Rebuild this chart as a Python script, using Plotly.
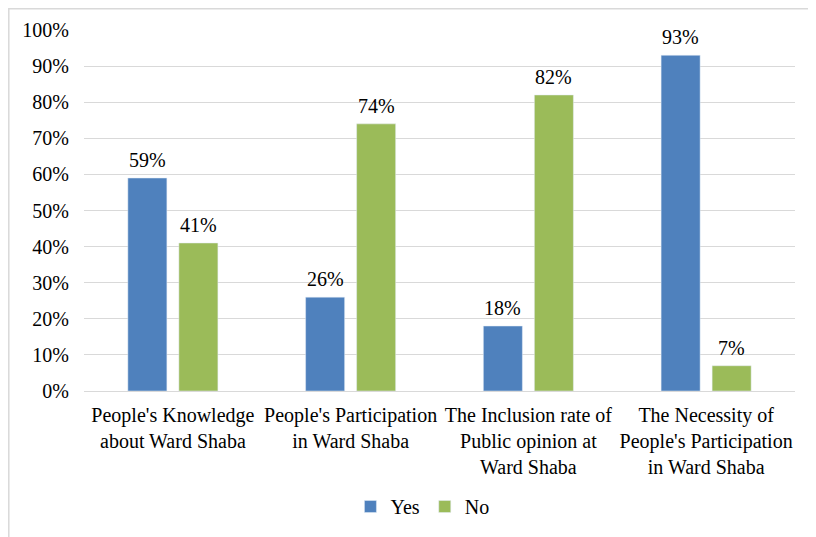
import plotly.graph_objects as go

categories = [
    "People's Knowledge<br>about Ward Shaba",
    "People's Participation<br>in Ward Shaba",
    "The Inclusion rate of<br>Public opinion at<br>Ward Shaba",
    "The Necessity of<br>People's Participation<br>in Ward Shaba",
]
yes_values = [59, 26, 18, 93]
no_values = [41, 74, 82, 7]
tick_vals = [0, 10, 20, 30, 40, 50, 60, 70, 80, 90, 100]
tick_text = [f"{v}%" for v in tick_vals]

FONT = "Liberation Serif"
SIZE = 20
BLUE, GREEN = "#4F81BD", "#9BBB59"

fig = go.Figure()
fig.add_trace(go.Bar(name="Yes", x=categories, y=yes_values, marker_color=BLUE))
fig.add_trace(go.Bar(name="No", x=categories, y=no_values, marker_color=GREEN))

# value labels above bars
for vals, dx in ((yes_values, -25.5), (no_values, 25.5)):
    for c, v in zip(categories, vals):
        fig.add_annotation(x=c, y=v, text=f"{v}%", showarrow=False, xref="x", yref="y",
                           xanchor="center", yanchor="bottom", xshift=dx, yshift=5,
                           font=dict(size=SIZE, family=FONT, color="#000000"))

W, H = 808, 529
L, R, T, B = 76, 21, 22, 146
PW, PH = W - L - R, H - T - B
fig.update_layout(
    width=W, height=H,
    margin=dict(l=L, r=R, t=T, b=B, autoexpand=False),
    paper_bgcolor="white", plot_bgcolor="white",
    font=dict(family=FONT, size=SIZE, color="#000000"),
    barmode="group", bargap=0.426, bargroupgap=0.235,
    showlegend=True,
    legend=dict(orientation="h", x=0.476, xanchor="center", y=-0.266, yanchor="top",
                font=dict(size=SIZE, family=FONT), itemwidth=30, traceorder="normal"),
    xaxis=dict(showgrid=False, showline=True, linecolor="#D9D9D9", linewidth=1,
               ticks="", tickfont=dict(size=SIZE, family=FONT), automargin=False,
               ticklabelstandoff=6),
    yaxis=dict(range=[0, 100], tickvals=tick_vals, ticktext=tick_text,
               showgrid=True, gridcolor="#D9D9D9", gridwidth=1, zeroline=False,
               showline=False, ticks="", tickfont=dict(size=SIZE, family=FONT),
               automargin=False, ticklabelstandoff=14),
)
fig.add_shape(type="rect", xref="paper", yref="paper",
              x0=(0.8 - L) / PW, x1=(W + 20 - L) / PW, y0=-(H + 20 - T - PH) / PH,
              y1=(PH + T - 0.8) / PH,
              line=dict(color="#D9D9D9", width=1.5), fillcolor="rgba(0,0,0,0)", layer="below")
fig.write_html("out.html")
